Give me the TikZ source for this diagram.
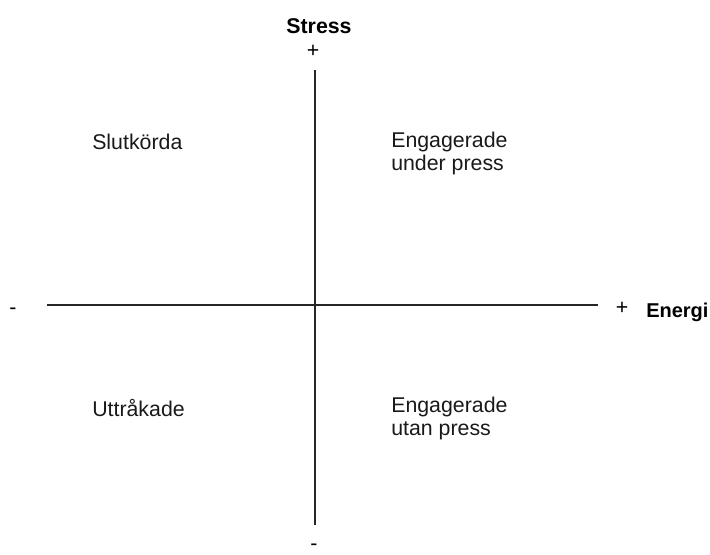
\documentclass[tikz,border=0pt]{standalone}
\usepackage{fontspec}
\setmainfont{Liberation Sans}
\begin{document}
\begin{tikzpicture}[x=0.75pt,y=-0.75pt,
  axis/.style={line width=1.1pt,black!85},
  lbl/.style={font=\fontsize{16}{17.25}\selectfont,inner sep=0pt,text=black!90},
  axlbl/.style={font=\bfseries\fontsize{16}{17.25}\selectfont,inner sep=0pt},
  sign/.style={font=\fontsize{16}{17.25}\selectfont,inner sep=0pt}]
  \useasboundingbox (0,0) rectangle (710,554);
  % axis end points
  \coordinate (ytop) at (315,70);
  \coordinate (ybot) at (315,525);
  \coordinate (xl) at (47,305);
  \coordinate (xr) at (598,305);
  \draw[axis] (ytop) -- (ybot);
  \draw[axis] (xl) -- (xr);
  % axis titles and signs
  \node[axlbl,anchor=base] (stress) at (319,33) {Stress};
  \node[sign] (yplus) at (313,51) {+};
  \node[sign] (yminus) at (314,547) {-};
  \node[sign] (xminus) at (13,311) {-};
  \node[sign] (xplus) at (622,308) {+};
  \node[axlbl,font=\bfseries\fontsize{15}{17}\selectfont,anchor=base west] (energi) at (646,317) {Energi};
  % quadrant labels
  \node[lbl,anchor=base west] (q2) at (92,149) {Slutkörda};
  \node[lbl,anchor=base west,align=left] (q1) at (391,170) {Engagerade\\under press};
  \node[lbl,anchor=base west] (q3) at (92,416) {Uttråkade};
  \node[lbl,anchor=base west,align=left] (q4) at (391,435) {Engagerade\\utan press};
\end{tikzpicture}
\end{document}
